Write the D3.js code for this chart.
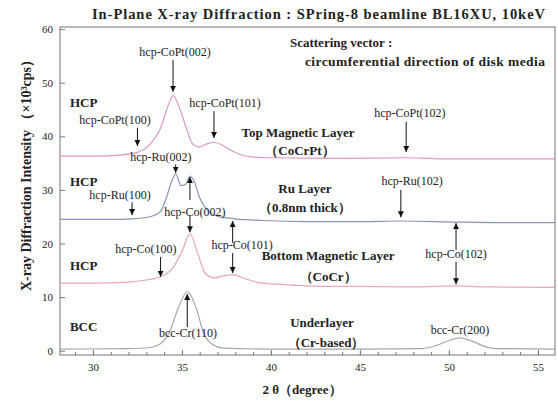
<!DOCTYPE html>
<html><head><meta charset="utf-8">
<script src="https://cdn.jsdelivr.net/npm/d3@7"></script>
<style>
body{margin:0;background:#fff}
svg{display:block}
text{font-family:"Liberation Serif","Times New Roman",serif;fill:#222}
</style>
</head><body><svg id="c" width="558" height="402"></svg>
<script>
// ---- data ----
const xTicks = [30, 35, 40, 45, 50, 55];
const yTicks = [0, 10, 20, 30, 40, 50, 60];

const topTheta = [28.15,30,31.5,32.5,33.2,33.8,34.2,34.5,34.9,35.3,35.6,36.0,36.4,36.8,37.3,37.8,38.8,40,44,47.6,50,55.96];
const topI     = [36.3,36.3,36.5,37.0,38.5,41.5,45.5,47.6,45.0,41.0,38.6,38.0,38.6,38.9,38.3,37.3,36.2,36.0,35.9,36.0,35.8,35.8];

const ruTheta = [28.15,31,32.2,33.2,33.8,34.1,34.45,34.65,34.95,35.2,35.45,35.7,36.0,36.5,37.0,38.0,39.5,42,45,47.3,50.4,53,55.96];
const ruI     = [24.5,24.5,24.6,25.0,26.0,28.3,31.8,33.0,30.8,31.0,32.6,31.5,28.5,26.0,25.1,24.6,24.3,24.1,24.1,24.2,24.0,23.9,23.9];

const botTheta = [28.15,30,32,33,33.8,34.5,35.0,35.45,35.9,36.3,36.8,37.4,37.85,38.5,39.5,41,43,45,48,50.4,52,55.96];
const botI     = [12.6,12.6,12.8,13.2,13.8,15.5,18.5,21.8,18.0,14.5,13.6,14.0,14.2,13.5,12.6,12.3,12.0,12.0,11.9,12.1,11.9,11.8];

const bccTheta = [28.15,32,33.2,33.8,34.3,34.8,35.3,35.8,36.2,36.7,37.3,40,45,48.5,49.3,50.0,50.6,51.3,52.0,52.6,55.96];
const bccI     = [0.3,0.4,0.6,1.3,3.5,8.0,11.0,8.0,3.5,1.2,0.5,0.3,0.3,0.4,1.0,1.9,2.4,1.8,0.8,0.4,0.3];

const seriesNames = ["top", "ru", "bottom", "bcc"];

// annotation labels (2θ, intensity)
const labelText = [
  "hcp-CoPt(002)","HCP","hcp-CoPt(100)","hcp-CoPt(101)","Top Magnetic Layer","（CoCrPt）","hcp-CoPt(102)",
  "Scattering vector :","circumferential direction of disk media",
  "hcp-Ru(002)","HCP","hcp-Ru(100)","Ru Layer","（0.8nm thick）","hcp-Ru(102)","hcp-Co(002)",
  "HCP","hcp-Co(100)","hcp-Co(101)","Bottom Magnetic Layer","（CoCr）","hcp-Co(102)",
  "BCC","bcc-Cr(110)","Underlayer","（Cr-based）","bcc-Cr(200)"
];
const labelX = [34.61,28.71,31.24,37.42,41.52,41.63,47.81, 41.07,41.91, 33.82,28.71,31.52,41.91,41.91,47.93,35.73, 28.71,32.98,38.38,43.21,43.21,50.40, 28.71,35.34,42.87,43.10,50.62];
const labelY = [55.0,45.5,42.3,45.5,39.9,36.5,43.6, 56.7,53.1, 35.4,30.7,28.3,29.4,25.9,30.9,25.2, 15.1,18.2,19.0,16.9,13.0,17.3, 3.7,2.6,4.4,0.7,3.1];
const labelKind = ["p","h","p","p","l","l","p", "s","c", "p","h","p","l","l","p","p", "h","p","p","l","l","p", "h","p","l","l","p"];

// arrows (2θ, from intensity, to intensity)
const arrowX    = [34.5, 32.5, 36.8, 47.6, 34.65, 32.2, 47.3, 35.45, 35.45, 33.8, 37.85, 37.85, 50.4, 50.4, 35.3];
const arrowFrom = [54.2, 41.6, 44.7, 42.7, 34.8, 27.7, 30.0, 28.1, 25.3, 17.5, 20.1, 18.2, 18.8, 16.6, 4.4];
const arrowTo   = [48.3, 38.2, 39.7, 37.1, 33.2, 25.3, 24.9, 32.4, 22.1, 13.8, 24.2, 14.5, 23.8, 12.4, 10.6];

// ---- drawing ----
const svg = d3.select("#c");
const x = d3.scaleLinear().domain([28.15, 55.96]).range([60, 555]);
const y = d3.scaleLinear().domain([-0.8, 60.4]).range([355, 27]);

svg.append("defs").append("marker")
  .attr("id","ah").attr("markerUnits","userSpaceOnUse")
  .attr("markerWidth",7).attr("markerHeight",7)
  .attr("refX",6).attr("refY",3).attr("orient","auto")
  .append("path").attr("d","M0,0L6,3L0,6Z").attr("fill","#111");

// frame
svg.append("rect").attr("x",x.range()[0]).attr("y",y.range()[1])
  .attr("width",x.range()[1]-x.range()[0]).attr("height",y.range()[0]-y.range()[1])
  .attr("fill","none").attr("stroke","#8a8a8a").attr("stroke-width",1.2);

// axes
const gx = svg.append("g").attr("transform",`translate(0,${y.range()[0]})`)
  .call(d3.axisBottom(x).tickValues(xTicks).tickSizeInner(-5).tickSizeOuter(0).tickPadding(8));
const gxm = svg.append("g").attr("transform",`translate(0,${y.range()[0]})`)
  .call(d3.axisBottom(x).tickValues(d3.range(29,56,1)).tickSizeInner(-3).tickSizeOuter(0).tickFormat(""));
const gy = svg.append("g").attr("transform",`translate(${x.range()[0]},0)`)
  .call(d3.axisLeft(y).tickValues(yTicks).tickSizeInner(-5).tickSizeOuter(0).tickPadding(7));
[gx,gxm,gy].forEach(g=>{
  g.select(".domain").remove();
  g.selectAll("line").attr("stroke","#777");
  g.selectAll("text").attr("font-size",11).attr("fill","#333").style("font-family","Liberation Serif");
});

// curves
const colors = {top:"#dc98c8", ru:"#8794b4", bottom:"#e8a8b6", bcc:"#a8a8a8"};
const seriesData = {
  top: topTheta.map((t,i)=>[t,topI[i]]),
  ru: ruTheta.map((t,i)=>[t,ruI[i]]),
  bottom: botTheta.map((t,i)=>[t,botI[i]]),
  bcc: bccTheta.map((t,i)=>[t,bccI[i]])
};
const line = d3.line().x(d=>x(d[0])).y(d=>y(d[1])).curve(d3.curveMonotoneX);
seriesNames.forEach(n=>{
  svg.append("path").attr("d",line(seriesData[n])).attr("fill","none")
    .attr("stroke",colors[n]).attr("stroke-width",1.2);
});

// arrows
arrowX.forEach((ax,i)=>{
  svg.append("line").attr("x1",x(ax)).attr("x2",x(ax))
    .attr("y1",y(arrowFrom[i])).attr("y2",y(arrowTo[i]))
    .attr("stroke","#111").attr("stroke-width",1).attr("marker-end","url(#ah)");
});

// labels
const kindStyle = {
  p:{size:12, weight:"normal", anchor:"middle"},
  h:{size:13, weight:"bold", anchor:"start"},
  l:{size:13, weight:"bold", anchor:"middle"},
  s:{size:13, weight:"bold", anchor:"start"},
  c:{size:13.5, weight:"bold", anchor:"start", len:240}
};
labelText.forEach((t,i)=>{
  const st = kindStyle[labelKind[i]];
  const tx = svg.append("text").attr("x",x(labelX[i])).attr("y",y(labelY[i]))
    .attr("text-anchor",st.anchor).attr("font-size",st.size).attr("font-weight",st.weight)
    .text(t);
  if (st.len) tx.attr("textLength",st.len).attr("lengthAdjust","spacing");
});

// title & axis titles
svg.append("text").attr("x",92).attr("y",19)
  .attr("font-size",14.5).attr("font-weight","bold")
  .attr("textLength",453).attr("lengthAdjust","spacing")
  .text("In-Plane X-ray Diffraction :   SPring-8 beamline BL16XU, 10keV");
svg.append("text").attr("x",302).attr("y",394).attr("text-anchor","middle")
  .attr("font-size",13).attr("font-weight","bold").text("2 θ（degree）");
svg.append("text").attr("transform","translate(31,172) rotate(-90)").attr("text-anchor","middle")
  .attr("font-size",14).attr("font-weight","bold").text("X-ray Diffraction Intensity （×10³cps）");
</script>
</body></html>
